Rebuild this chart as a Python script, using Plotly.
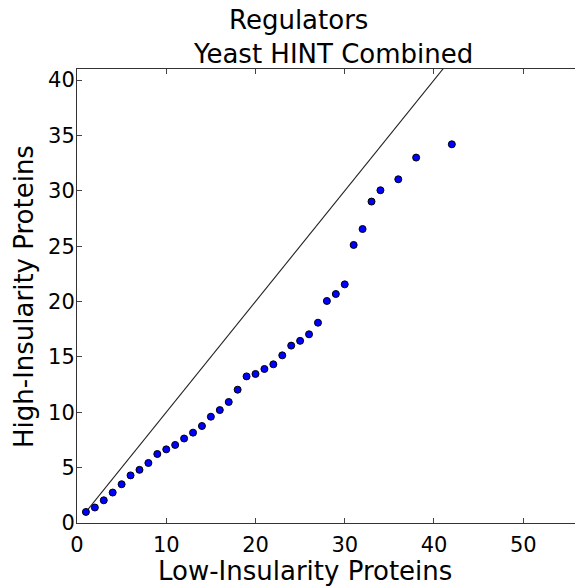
import plotly.graph_objects as go

# Protein counts per regulator group: low-insularity (x) vs high-insularity (y)
low_insularity = [1, 2, 3, 4, 5, 6, 7, 8, 9, 10, 11, 12, 13, 14, 15, 16, 17, 18,
                  19, 20, 21, 22, 23, 24, 25, 26, 27, 28, 29, 30, 31, 32, 33, 34,
                  36, 38, 42]
high_insularity = [1.0, 1.4, 2.05, 2.75, 3.5, 4.3, 4.8, 5.42, 6.23, 6.65, 7.05,
                   7.63, 8.16, 8.76, 9.6, 10.2, 10.93, 12.04, 13.24, 13.46, 13.91,
                   14.33, 15.14, 16.02, 16.45, 17.04, 18.09, 20.05, 20.68, 21.55,
                   25.11, 26.55, 29.03, 30.05, 31.04, 33.0, 34.2]

# Identity reference line spanning the data range
diag = [min(low_insularity), max(low_insularity)]

x_ticks = [0, 10, 20, 30, 40, 50]
y_ticks = [0, 5, 10, 15, 20, 25, 30, 35, 40]

FONT = "DejaVu Sans"
W, H = 575, 586
L, R, T, B = 77, 0, 69, 63

fig = go.Figure()
fig.add_trace(go.Scatter(
    x=diag, y=diag, mode="lines",
    line=dict(color="#222222", width=1.1),
    hoverinfo="skip", showlegend=False,
))
fig.add_trace(go.Scatter(
    x=low_insularity, y=high_insularity, mode="markers",
    marker=dict(size=7, color="#0000ff", line=dict(color="#000000", width=1)),
    showlegend=False, cliponaxis=False,
))

axis_common = dict(
    showgrid=False, zeroline=False, showline=True,
    linecolor="#333333", linewidth=1,
    ticks="inside", ticklen=5, tickwidth=1, tickcolor="#444444",
    tickfont=dict(family=FONT, size=21, color="#000000"),
)
fig.update_xaxes(range=[0, 55.8], tickvals=x_ticks, mirror="ticks",
                 ticklabelstandoff=3, **axis_common)
fig.update_yaxes(range=[0, 41.0], tickvals=y_ticks, mirror=False,
                 ticklabelstandoff=-3, **axis_common)

pw = W - L - R
ph = H - T - B


def px_x(px):
    return (px - L) / pw


def px_y(py):
    return (H - B - py) / ph


title_font = dict(family=FONT, size=26, color="#000000")
annotations = [
    dict(text="Regulators", x=px_x(298), y=px_y(20)),
    dict(text="Yeast HINT Combined", x=px_x(333), y=px_y(54)),
    dict(text="Low-Insularity Proteins", x=px_x(305), y=px_y(571)),
    dict(text="High-Insularity Proteins", x=px_x(24), y=px_y(297), textangle=-90),
]
for a in annotations:
    fig.add_annotation(xref="paper", yref="paper", showarrow=False,
                       xanchor="center", yanchor="middle", font=title_font, **a)

fig.update_layout(
    width=W, height=H,
    margin=dict(l=L, r=R, t=T, b=B, pad=0),
    paper_bgcolor="white", plot_bgcolor="white",
)

fig.write_html("out.html")
